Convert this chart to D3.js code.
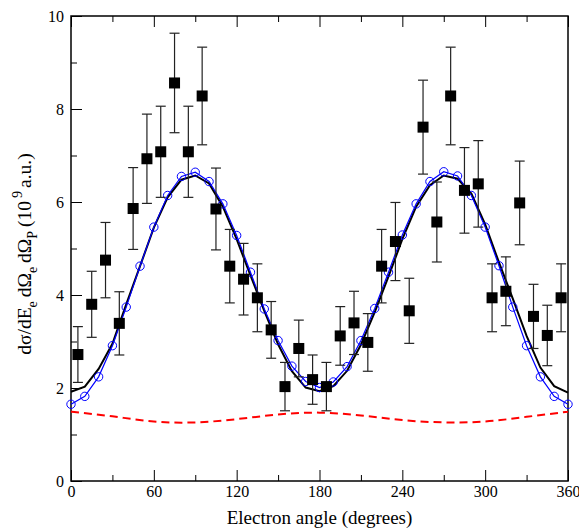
<!DOCTYPE html>
<html>
<head>
<meta charset="utf-8">
<script src="https://cdn.jsdelivr.net/npm/d3@7"></script>
<style>
  body { margin: 0; background: #fff; }
  text { font-family: "Liberation Serif", "DejaVu Serif", serif; fill: #000; }
</style>
</head>
<body>
<div class="chart-container"></div>
<script>
// measured cross sections (squares with error bars)
const expAngles = [5, 15, 25, 35, 45, 55, 65, 75, 85, 95, 105, 115, 125, 135, 145, 155, 165, 175,
                   185, 195, 205, 215, 225, 235, 245, 255, 265, 275, 285, 295, 305, 315, 325, 335, 345, 355];
const expValues = [2.72, 3.80, 4.75, 3.39, 5.86, 6.93, 7.08, 8.56, 7.08, 8.28, 5.85, 4.62, 4.34, 3.94, 3.25, 2.03, 2.85, 2.18,
                   2.03, 3.12, 3.40, 2.98, 4.62, 5.15, 3.66, 7.61, 5.57, 8.28, 6.25, 6.39, 3.94, 4.08, 5.98, 3.54, 3.13, 3.94];
const expErrors = [0.60, 0.71, 0.81, 0.68, 0.88, 0.96, 0.98, 1.07, 0.98, 1.05, 0.88, 0.79, 0.77, 0.73, 0.61, 0.52, 0.61, 0.53,
                   0.52, 0.63, 0.68, 0.62, 0.79, 0.84, 0.70, 1.01, 0.86, 1.05, 0.92, 0.93, 0.73, 0.74, 0.90, 0.69, 0.65, 0.73];

// theory curves, every 10 degrees
const theoryAngles = [0, 10, 20, 30, 40, 50, 60, 70, 80, 90, 100, 110, 120, 130, 140, 150, 160, 170, 180,
                      190, 200, 210, 220, 230, 240, 250, 260, 270, 280, 290, 300, 310, 320, 330, 340, 350, 360];
const blueValues = [1.65, 1.82, 2.24, 2.91, 3.74, 4.62, 5.46, 6.14, 6.55, 6.64, 6.44, 5.96, 5.28, 4.49, 3.70, 3.02, 2.47, 2.14, 2.01,
                    2.13, 2.46, 3.02, 3.71, 4.49, 5.29, 5.96, 6.44, 6.65, 6.56, 6.14, 5.46, 4.63, 3.74, 2.91, 2.24, 1.82, 1.65];
const blackValues = [1.92, 2.03, 2.41, 2.95, 3.80, 4.62, 5.45, 6.10, 6.48, 6.57, 6.40, 5.90, 5.20, 4.42, 3.66, 2.94, 2.36, 2.01, 1.93,
                     2.04, 2.37, 2.93, 3.63, 4.40, 5.20, 5.90, 6.36, 6.57, 6.50, 6.18, 5.52, 4.70, 3.92, 3.12, 2.44, 2.04, 1.90];

// dashed red curve
const redAngles = [0, 30, 60, 90, 120, 150, 180, 210, 240, 270, 300, 330, 360];
const redValues = [1.49, 1.39, 1.28, 1.26, 1.33, 1.43, 1.47, 1.41, 1.31, 1.26, 1.28, 1.38, 1.49];

const xMajor = [0, 60, 120, 180, 240, 300, 360];
const xMinor = [30, 90, 150, 210, 270, 330];
const yMajor = [0, 2, 4, 6, 8, 10];
const yMinor = [1, 3, 5, 7, 9];

const width = 579;
const height = 531;
const marginTop = 16;
const marginRight = 11;
const marginBottom = 50;
const marginLeft = 71;

const x = d3.scaleLinear().domain([0, 360]).range([marginLeft, width - marginRight]);
const y = d3.scaleLinear().domain([0, 10]).range([height - marginBottom, marginTop]);

const svg = d3.select('.chart-container').append('svg')
    .attr('width', width)
    .attr('height', height);

// axes with inward ticks
svg.append('g')
    .attr('transform', `translate(0,${height - marginBottom})`)
    .call(d3.axisBottom(x).tickValues(xMajor).tickSize(-11).tickSizeOuter(0).tickPadding(5));
svg.append('g')
    .attr('transform', `translate(0,${height - marginBottom})`)
    .call(d3.axisBottom(x).tickValues(xMinor).tickSize(-6).tickSizeOuter(0).tickFormat(''));
svg.append('g')
    .attr('transform', `translate(0,${marginTop})`)
    .call(d3.axisTop(x).tickValues(xMajor).tickSize(-11).tickSizeOuter(0).tickFormat(''));
svg.append('g')
    .attr('transform', `translate(0,${marginTop})`)
    .call(d3.axisTop(x).tickValues(xMinor).tickSize(-6).tickSizeOuter(0).tickFormat(''));
svg.append('g')
    .attr('transform', `translate(${marginLeft},0)`)
    .call(d3.axisLeft(y).tickValues(yMajor).tickSize(-11).tickSizeOuter(0).tickPadding(7));
svg.append('g')
    .attr('transform', `translate(${marginLeft},0)`)
    .call(d3.axisLeft(y).tickValues(yMinor).tickSize(-6).tickSizeOuter(0).tickFormat(''));

svg.selectAll('.tick text').style('font-size', '16px').style('font-family', '"Liberation Serif", serif');
svg.selectAll('.tick line').attr('stroke', '#000');
svg.selectAll('.domain').remove();

// frame
svg.append('rect')
    .attr('x', marginLeft)
    .attr('y', marginTop)
    .attr('width', width - marginLeft - marginRight)
    .attr('height', height - marginTop - marginBottom)
    .attr('fill', 'none')
    .attr('stroke', '#000')
    .attr('stroke-width', 1.5);

// red dashed curve
svg.append('path')
    .datum(redAngles.map((a, i) => [a, redValues[i]]))
    .attr('fill', 'none')
    .attr('stroke', '#ff0000')
    .attr('stroke-width', 2)
    .attr('stroke-dasharray', '8,5')
    .attr('d', d3.line().x(d => x(d[0])).y(d => y(d[1])).curve(d3.curveNatural));

// black curve
svg.append('path')
    .datum(theoryAngles.map((a, i) => [a, blackValues[i]]))
    .attr('fill', 'none')
    .attr('stroke', '#000')
    .attr('stroke-width', 2)
    .attr('d', d3.line().x(d => x(d[0])).y(d => y(d[1])));

// blue curve with circles
const bluePts = theoryAngles.map((a, i) => [a, blueValues[i]]);
svg.append('path')
    .datum(bluePts)
    .attr('fill', 'none')
    .attr('stroke', '#0000ff')
    .attr('stroke-width', 1.2)
    .attr('d', d3.line().x(d => x(d[0])).y(d => y(d[1])));
svg.append('g')
    .selectAll('circle')
    .data(bluePts)
    .enter()
    .append('circle')
    .attr('cx', d => x(d[0]))
    .attr('cy', d => y(d[1]))
    .attr('r', 4.2)
    .attr('fill', 'none')
    .attr('stroke', '#0000ff')
    .attr('stroke-width', 1);

// experiment: error bars then squares
const exp = expAngles.map((a, i) => ({a: a, v: expValues[i], e: expErrors[i]}));
const bars = svg.append('g').attr('stroke', '#222').attr('stroke-width', 1.2);
bars.selectAll('.stem').data(exp).enter().append('line')
    .attr('x1', d => x(d.a)).attr('x2', d => x(d.a))
    .attr('y1', d => y(d.v - d.e)).attr('y2', d => y(d.v + d.e));
bars.selectAll('.capTop').data(exp).enter().append('line')
    .attr('x1', d => x(d.a) - 5).attr('x2', d => x(d.a) + 5)
    .attr('y1', d => y(d.v + d.e)).attr('y2', d => y(d.v + d.e));
bars.selectAll('.capBot').data(exp).enter().append('line')
    .attr('x1', d => x(d.a) - 5).attr('x2', d => x(d.a) + 5)
    .attr('y1', d => y(d.v - d.e)).attr('y2', d => y(d.v - d.e));
svg.append('g')
    .selectAll('rect')
    .data(exp)
    .enter()
    .append('rect')
    .attr('x', d => x(d.a) - 5.5)
    .attr('y', d => y(d.v) - 5.5)
    .attr('width', 11)
    .attr('height', 11)
    .attr('fill', '#000');

// axis titles
svg.append('text')
    .attr('x', (marginLeft + width - marginRight) / 2)
    .attr('y', 524)
    .attr('text-anchor', 'middle')
    .style('font-size', '19px')
    .text('Electron angle (degrees)');

const yt = svg.append('text')
    .attr('transform', `translate(31,254) rotate(-90)`)
    .attr('text-anchor', 'middle')
    .style('font-size', '19.5px');
yt.append('tspan').text('dσ/dE');
yt.append('tspan').attr('dy', 6).style('font-size', '14px').text('e');
yt.append('tspan').attr('dy', -6).text('\u2009dΩ');
yt.append('tspan').attr('dy', 6).style('font-size', '14px').text('e');
yt.append('tspan').attr('dy', -6).text('\u2009dΩ');
yt.append('tspan').attr('dy', 6).style('font-size', '14px').text('P');
yt.append('tspan').attr('dy', -6).text('\u2009(10');
yt.append('tspan').attr('dy', -9).attr('dx', 3).style('font-size', '14px').text('9');
yt.append('tspan').attr('dy', 9).attr('dx', 3).text('a.u.)');
</script>
</body>
</html>
